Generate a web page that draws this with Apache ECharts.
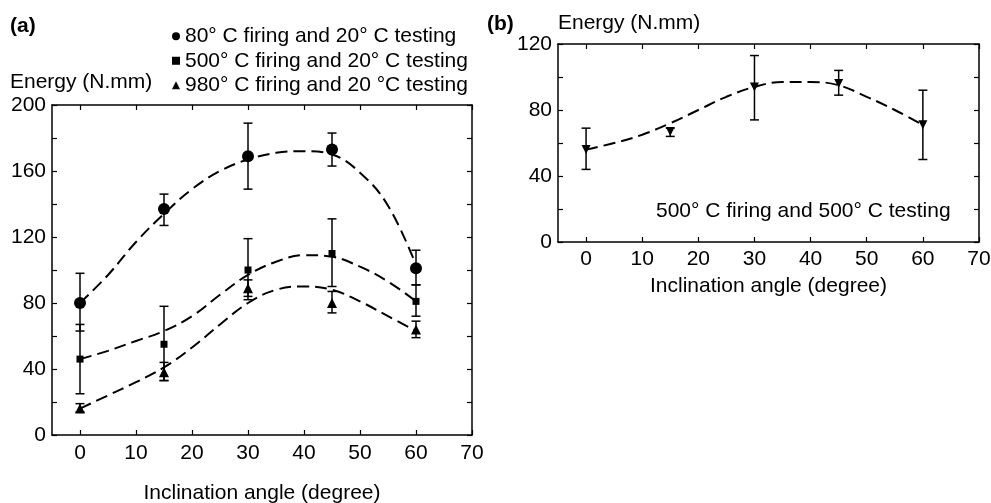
<!DOCTYPE html>
<html>
<head>
<meta charset="utf-8">
<script src="https://cdn.jsdelivr.net/npm/echarts@6/dist/echarts.min.js"></script>
<style>html,body{margin:0;padding:0;background:#fff;}#c{width:991px;height:503px;}</style>
</head>
<body>
<div id="c"></div>
<script>
// ---- data ----
const angles = [0, 15, 30, 45, 60];
const xTicks = [0, 10, 20, 30, 40, 50, 60, 70];

const a80 = [80, 137, 169, 173, 101];
const a80Low = [63, 127, 149, 163, 91];
const a80High = [98, 146, 189, 183, 112];

const a500 = [46, 55, 100, 110, 81];
const a500Low = [25, 33, 82, 90, 72];
const a500High = [67, 78, 119, 131, 91];

const a980 = [16, 38, 89, 80, 64];
const a980Low = [14, 33, 84, 74, 59];
const a980High = [19, 44, 94, 87, 69];

const fitX = [0, 5, 10, 15, 20, 25, 30, 35, 40, 45, 50, 55, 60];
const fit80 = [80, 97, 117, 134, 149, 160, 167, 171, 172, 170, 159, 139, 103];
const fit500 = [46, 51, 57, 63, 72, 85, 97, 105, 109, 108, 102, 93, 81];
const fit980 = [16, 24, 32, 41, 53, 67, 80, 88, 90, 88, 81, 72, 63];

const b500 = [56, 67, 94, 96, 71];
const b500Low = [44, 64, 74, 89, 50];
const b500High = [69, 69, 113, 104, 92];
const fitB = [56, 60, 65, 72, 80, 88, 94, 97, 97, 95, 88, 80, 71];

const names = [
  '80° C firing and 20° C testing',
  '500° C firing and 20° C testing',
  '980° C firing and 20 °C testing'
];

// ---- helpers ----
const FONT = '"Liberation Sans", Arial, Helvetica, sans-serif';
const FS = 21;
const pairs = (xs, ys) => xs.map((x, i) => [x, ys[i]]);
const errData = (xs, lo, hi) => xs.map((x, i) => [x, lo[i], hi[i]]);

function errSeries(data, xi, yi) {
  return {
    type: 'custom', xAxisIndex: xi, yAxisIndex: yi, z: 1, silent: true,
    data: data,
    renderItem: function (params, api) {
      const x = api.value(0);
      const lo = api.coord([x, api.value(1)]);
      const hi = api.coord([x, api.value(2)]);
      const w = 4.5;
      const st = { stroke: '#000', lineWidth: 1.5 };
      return {
        type: 'group',
        children: [
          { type: 'line', shape: { x1: lo[0], y1: lo[1], x2: hi[0], y2: hi[1] }, style: st },
          { type: 'line', shape: { x1: lo[0] - w, y1: lo[1], x2: lo[0] + w, y2: lo[1] }, style: st },
          { type: 'line', shape: { x1: hi[0] - w, y1: hi[1], x2: hi[0] + w, y2: hi[1] }, style: st }
        ]
      };
    }
  };
}
function fitSeries(ys, xi, yi) {
  return {
    type: 'line', xAxisIndex: xi, yAxisIndex: yi, data: pairs(fitX, ys),
    smooth: 0.4, symbol: 'none', silent: true, z: 2,
    lineStyle: { color: '#000', width: 2, type: [12, 6] }
  };
}
function scat(name, ys, symbol, size, xi, yi, rotate) {
  return {
    type: 'scatter', name: name, xAxisIndex: xi, yAxisIndex: yi,
    data: pairs(angles, ys), symbol: symbol, symbolSize: size,
    symbolRotate: rotate || 0, z: 3,
    itemStyle: { color: '#000', opacity: 1 }
  };
}

const labelStyle = { color: '#000', fontSize: FS, fontFamily: FONT };

function xAxes(gi, title, gap, margin) {
  return [
    {
      type: 'value', gridIndex: gi, position: 'bottom', min: -5, max: 70,
      axisLine: { show: true, onZero: false, lineStyle: { color: '#000', width: 1.5 } },
      axisTick: { show: true, inside: true, length: 5, customValues: xTicks, lineStyle: { color: '#000', width: 1.2 } },
      axisLabel: Object.assign({ margin: margin, customValues: xTicks }, labelStyle),
      splitLine: { show: false },
      name: title, nameLocation: 'middle', nameGap: gap,
      nameTextStyle: { color: '#000', fontSize: FS, fontFamily: FONT }
    },
    {
      type: 'value', gridIndex: gi, position: 'top', min: -5, max: 70,
      axisLine: { show: true, onZero: false, lineStyle: { color: '#000', width: 1.5 } },
      axisTick: { show: true, inside: true, length: 5, customValues: xTicks, lineStyle: { color: '#000', width: 1.2 } },
      axisLabel: { show: false },
      splitLine: { show: false }
    }
  ];
}
function yAxes(gi, max) {
  return [
    {
      type: 'value', gridIndex: gi, position: 'left', min: 0, max: max, interval: 20,
      axisLine: { show: true, onZero: false, lineStyle: { color: '#000', width: 1.5 } },
      axisTick: { show: true, inside: true, length: 5, lineStyle: { color: '#000', width: 1.2 } },
      axisLabel: Object.assign({ margin: 6, formatter: v => (v % 40 === 0 ? String(v) : '') }, labelStyle),
      splitLine: { show: false }
    },
    {
      type: 'value', gridIndex: gi, position: 'right', min: 0, max: max, interval: 20,
      axisLine: { show: true, onZero: false, lineStyle: { color: '#000', width: 1.5 } },
      axisTick: { show: true, inside: true, length: 5, lineStyle: { color: '#000', width: 1.2 } },
      axisLabel: { show: false },
      splitLine: { show: false }
    }
  ];
}

const chart = echarts.init(document.getElementById('c'), null, { renderer: 'canvas' });
const option = {
  backgroundColor: '#fff',
  animation: false,
  textStyle: { fontFamily: FONT },
  grid: [
    { left: 52, top: 105, width: 420, height: 330, containLabel: false, outerBoundsMode: 'none' },
    { left: 558, top: 44, width: 421, height: 198, containLabel: false, outerBoundsMode: 'none' }
  ],
  xAxis: xAxes(0, 'Inclination angle (degree)', 48, 8).concat(xAxes(1, 'Inclination angle (degree)', 34, 7)),
  yAxis: yAxes(0, 200).concat(yAxes(1, 120)),
  legend: {
    orient: 'vertical', left: 167, top: 19,
    itemWidth: 8, itemHeight: 8, itemGap: 0,
    selectedMode: false,
    textStyle: { color: '#000', fontSize: FS, fontFamily: FONT, lineHeight: 24.5, padding: [0, 0, 0, 0] },
    data: [
      { name: names[0], icon: 'circle' },
      { name: names[1], icon: 'rect' },
      { name: names[2], icon: 'triangle' }
    ]
  },
  graphic: [
    { type: 'text', left: 10, top: 16, style: { text: '(a)', fill: '#000', font: 'bold 21px ' + FONT } },
    { type: 'text', left: 10, top: 72, style: { text: 'Energy (N.mm)', fill: '#000', font: FS + 'px ' + FONT } },
    { type: 'text', left: 487, top: 14, style: { text: '(b)', fill: '#000', font: 'bold 21px ' + FONT } },
    { type: 'text', left: 558, top: 13, style: { text: 'Energy (N.mm)', fill: '#000', font: FS + 'px ' + FONT } },
    { type: 'text', left: 656, top: 201, style: { text: '500° C firing and 500° C testing', fill: '#000', font: FS + 'px ' + FONT } }
  ],
  series: [
    errSeries(errData(angles, a80Low, a80High), 0, 0),
    errSeries(errData(angles, a500Low, a500High), 0, 0),
    errSeries(errData(angles, a980Low, a980High), 0, 0),
    fitSeries(fit80, 0, 0),
    fitSeries(fit500, 0, 0),
    fitSeries(fit980, 0, 0),
    scat(names[0], a80, 'circle', 12, 0, 0),
    scat(names[1], a500, 'rect', 7, 0, 0),
    scat(names[2], a980, 'triangle', 10, 0, 0),
    errSeries(errData(angles, b500Low, b500High), 2, 2),
    fitSeries(fitB, 2, 2),
    scat('500° C firing and 500° C testing', b500, 'triangle', 9, 2, 2, 180)
  ]
};
chart.setOption(option);
</script>
</body>
</html>
